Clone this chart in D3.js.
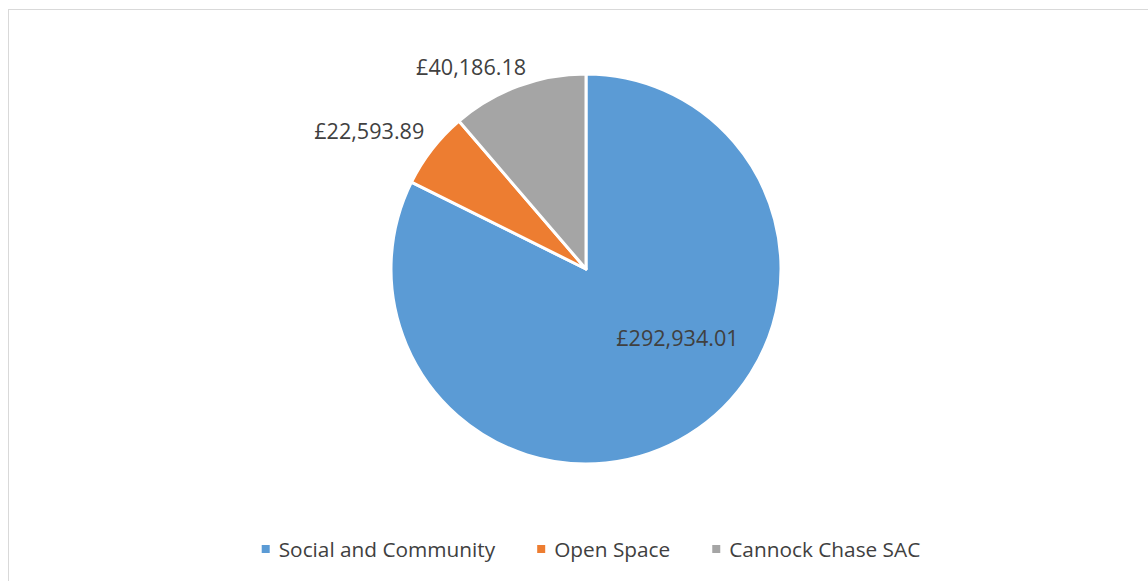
<!DOCTYPE html>
<html>
<head>
<meta charset="utf-8">
<script src="https://cdn.jsdelivr.net/npm/d3@7"></script>
<style>
  html, body { margin: 0; padding: 0; background: #ffffff; }
  svg { display: block; }
  text { font-family: "Open Sans", "Noto Sans", sans-serif; fill: #404040; }
</style>
</head>
<body>
<svg id="chart" width="1148" height="581"></svg>
<script>
// ---- data ----
const categories = ["Social and Community", "Open Space", "Cannock Chase SAC"];
const values = [292934.01, 22593.89, 40186.18];
const valueLabels = ["£292,934.01", "£22,593.89", "£40,186.18"];
const colors = ["#5B9BD5", "#ED7D31", "#A5A5A5"];

const svg = d3.select("#chart");
const W = 1148, H = 581;

// chart area border
svg.append("rect")
  .attr("x", 8.5).attr("y", 9.5)
  .attr("width", W + 20).attr("height", H + 20)
  .attr("fill", "#ffffff")
  .attr("stroke", "#D9D9D9").attr("stroke-width", 1);

const cx = 586, cy = 269, r = 195;
const g = svg.append("g").attr("transform", `translate(${cx},${cy})`);

const pie = d3.pie().sort(null).value(d => d);
const arcs = pie(values);
const arc = d3.arc().innerRadius(0).outerRadius(r);

g.selectAll("path.slice")
  .data(arcs)
  .join("path")
  .attr("class", "slice")
  .attr("d", arc)
  .attr("fill", (d, i) => colors[i])
  .attr("stroke", "#ffffff")
  .attr("stroke-width", 3)
  .attr("stroke-linejoin", "round");

// label placement (Excel "best fit"): angle offset from slice middle, radius factor
const placement = [
  { dAngle: -21.5, k: 0.585 },
  { dAngle: -5.4, k: 1.318 },
  { dAngle: -9.2, k: 1.195 }
];
g.selectAll("text.lbl")
  .data(arcs)
  .join("text")
  .attr("class", "lbl")
  .attr("transform", (d, i) => {
    const mid = (d.startAngle + d.endAngle) / 2 + placement[i].dAngle * Math.PI / 180;
    const rr = r * placement[i].k;
    const p = d3.arc().innerRadius(rr).outerRadius(rr).startAngle(mid).endAngle(mid).centroid();
    return `translate(${p[0]},${p[1]})`;
  })
  .attr("text-anchor", "middle")
  .attr("dominant-baseline", "central")
  .attr("font-size", 21.6)
  .text((d, i) => valueLabels[i]);

// legend
const legend = svg.append("g");
const items = legend.selectAll("g.item")
  .data(categories)
  .join("g")
  .attr("class", "item");
items.append("rect")
  .attr("width", 8).attr("height", 8)
  .attr("y", -4)
  .attr("fill", (d, i) => colors[i]);
items.append("text")
  .attr("x", 17)
  .attr("dominant-baseline", "central")
  .attr("font-size", 20.8)
  .text(d => d);

let x = 0;
const gap = 42;
items.each(function () {
  const w = 17 + d3.select(this).select("text").node().getComputedTextLength();
  d3.select(this).attr("transform", `translate(${x},0)`);
  x += w + gap;
});
const total = x - gap;
legend.attr("transform", `translate(${591 - total / 2},549)`);
</script>
</body>
</html>
